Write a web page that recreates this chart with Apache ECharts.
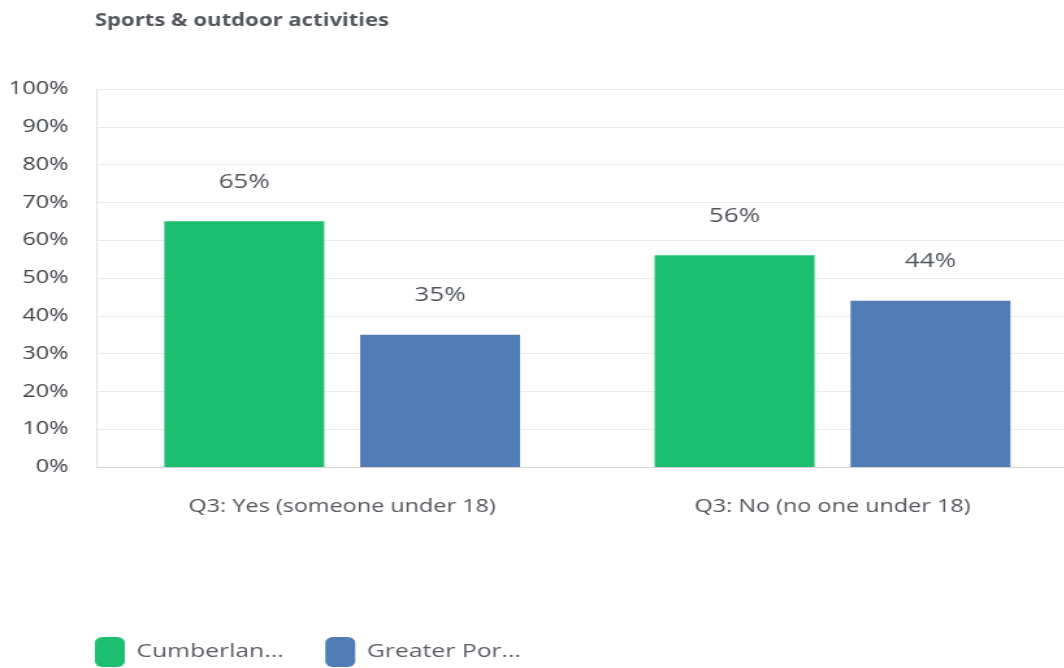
<!DOCTYPE html>
<html>
<head>
<meta charset="utf-8">
<script src="https://cdn.jsdelivr.net/npm/echarts@6/dist/echarts.min.js"></script>
<style>
  html, body { margin: 0; padding: 0; background: #fff; overflow: hidden; }
  /* the chart is drawn in a narrower box and stretched wide */
  #chart { width: 829px; height: 668px; transform: scaleX(1.3); transform-origin: 0 0; }
</style>
</head>
<body>
<div id="chart"></div>
<script>
// Share of respondents choosing sports & outdoor activities, by household type
const categories = ['Q3: Yes (someone under 18)', 'Q3: No (no one under 18)'];
const seriesNames = ['Cumberlan...', 'Greater Por...'];
const cumberlandValues = [65, 56];
const greaterPortlandValues = [35, 44];
const yTicks = [0, 10, 20, 30, 40, 50, 60, 70, 80, 90, 100];

const colors = ['#1cbf70', '#517cb5'];
const fontFamily = '"Open Sans", "Noto Sans", sans-serif';

const chart = echarts.init(document.getElementById('chart'));

const valueLabel = {
  show: true,
  position: 'top',
  distance: 29,
  formatter: p => p.value + '%',
  color: '#50555b',
  fontSize: 20,
  fontFamily: fontFamily
};

chart.setOption({
  animation: false,
  title: {
    text: 'Sports & outdoor activities',
    left: 68,
    top: 8,
    textStyle: { fontSize: 17, fontWeight: 'bold', color: '#53575c', fontFamily: fontFamily }
  },
  legend: {
    left: 68,
    top: 632,
    itemWidth: 23,
    itemHeight: 30,
    itemGap: 32,
    icon: 'roundRect',
    textStyle: { fontSize: 19, color: '#5a5e63', fontFamily: fontFamily, padding: [0, 0, 0, 4] },
    data: seriesNames
  },
  grid: { left: 74.6, right: 0, top: 89, bottom: 201, containLabel: false },
  xAxis: {
    type: 'category',
    data: categories,
    axisLine: { show: true, lineStyle: { color: '#d3d3d3' } },
    axisTick: { show: false },
    axisLabel: { margin: 31, fontSize: 18, color: '#53575c', fontFamily: fontFamily }
  },
  yAxis: {
    type: 'value',
    min: yTicks[0],
    max: yTicks[yTicks.length - 1],
    interval: yTicks[1] - yTicks[0],
    axisLine: { show: true, lineStyle: { color: '#e0e0e0' } },
    axisTick: { show: false },
    splitLine: { lineStyle: { color: '#ececec' } },
    axisLabel: { margin: 22, fontSize: 18, color: '#3f4348', fontFamily: fontFamily, formatter: v => v + '%' }
  },
  series: [
    {
      name: seriesNames[0],
      type: 'bar',
      data: cumberlandValues,
      barWidth: 123,
      barGap: '22.5%',
      itemStyle: { color: colors[0] },
      label: valueLabel
    },
    {
      name: seriesNames[1],
      type: 'bar',
      data: greaterPortlandValues,
      barWidth: 123,
      barGap: '22.5%',
      itemStyle: { color: colors[1] },
      label: valueLabel
    }
  ]
});
</script>
</body>
</html>
